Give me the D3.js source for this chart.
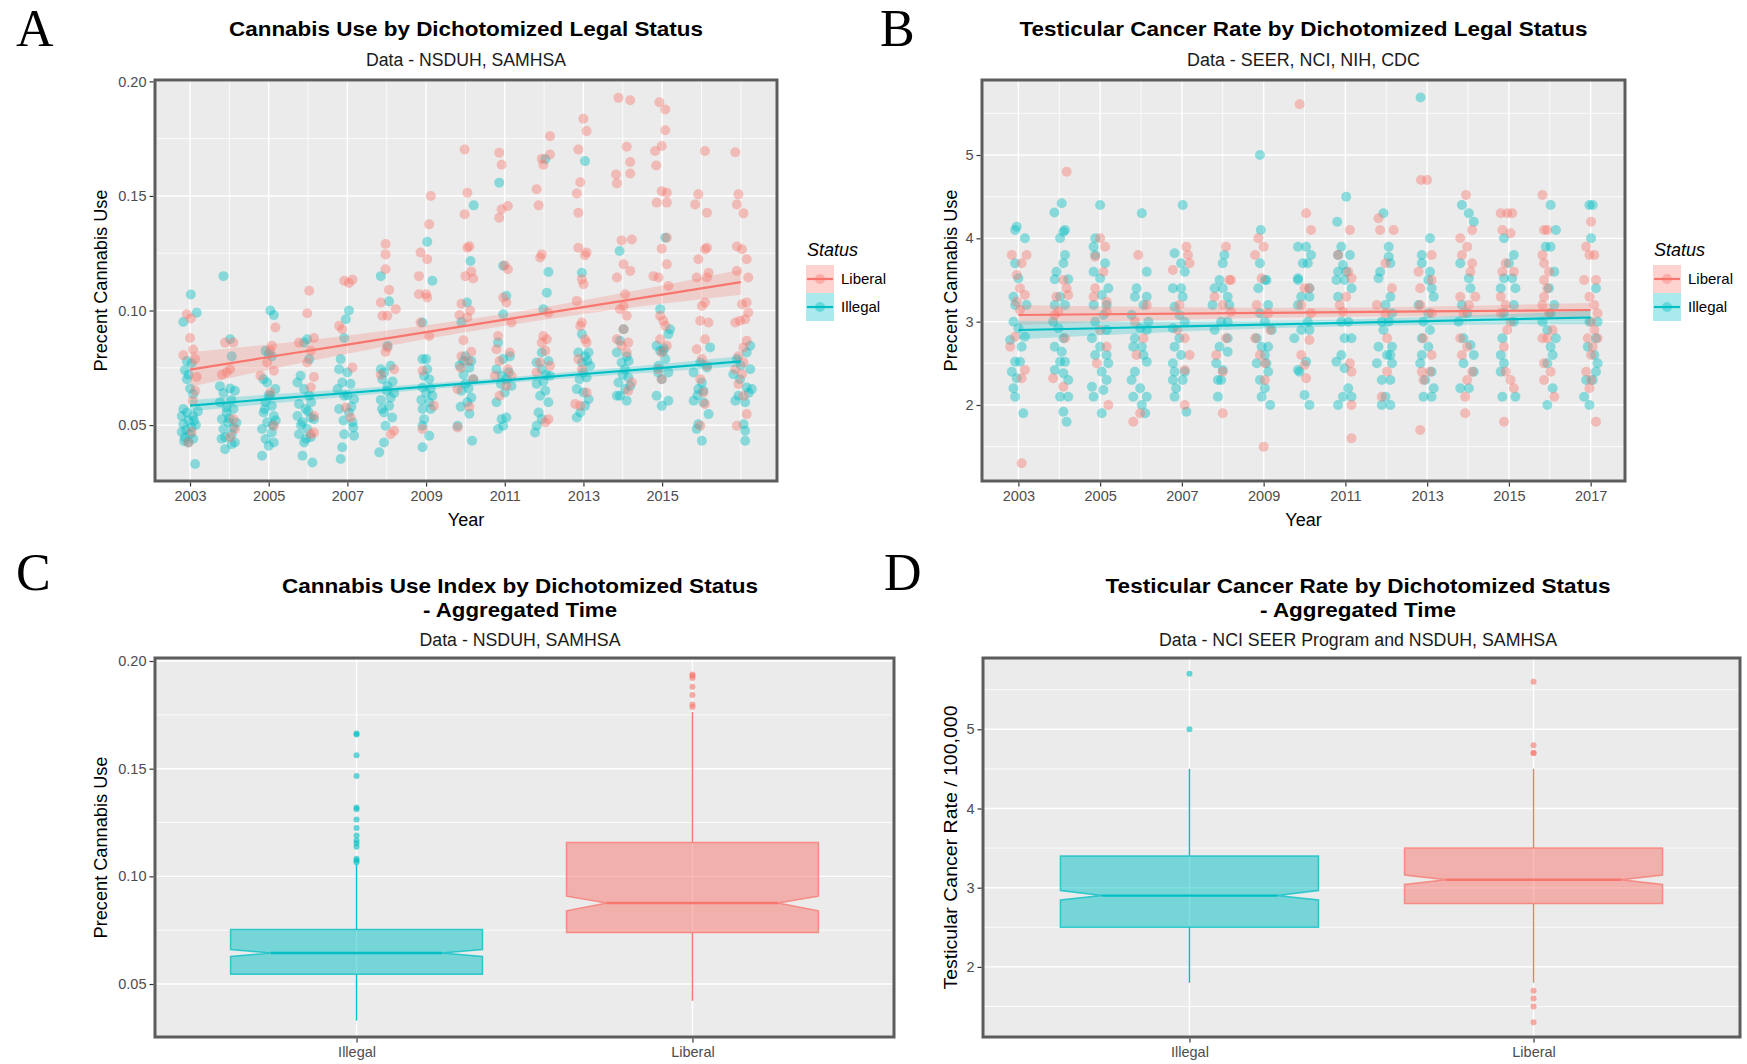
<!DOCTYPE html>
<html>
<head>
<meta charset="utf-8">
<script src="https://cdn.jsdelivr.net/npm/d3@7/dist/d3.min.js"></script>
<style>
  body { margin: 0; background: #fff; }
</style>
</head>
<body>
<svg id="chart" width="1747" height="1064" font-family="'Liberation Sans', Arial, sans-serif"></svg>
<script>
// ---- data ----
const yearTicksA = [2003, 2005, 2007, 2009, 2011, 2013, 2015];
const yearTicksB = [2003, 2005, 2007, 2009, 2011, 2013, 2015, 2017];
const yearGrid = [2003, 2004, 2005, 2006, 2007, 2008, 2009, 2010, 2011, 2012, 2013, 2014, 2015, 2016, 2017];
const useTicks = [0.05, 0.10, 0.15, 0.20];
const useMinor = [0.075, 0.125, 0.175];
const rateTicks = [2, 3, 4, 5];
const rateMinor = [1.5, 2.5, 3.5, 4.5, 5.5];
const legendGroups = ['Liberal', 'Illegal'];
const boxGroups = ['Illegal', 'Liberal'];

// [year, [[jitter offset in years, value], ...]]
const cannabisIllegal = [
  [2003, [[.02,.107],[.17,.099],[-.17,.095],[-.08,.078],[.04,.077],[-.13,.074],[-.04,.072],[-.08,.070],[0,.066],[.08,.0635],[-.17,.057],[-.08,.0555],[-.21,.054],[.08,.054],[-.04,.052],[-.17,.0505],[.04,.049],[-.21,.047],[0,.046],[-.13,.0447],[.08,.044],[-.04,.0424],[.13,.033],[.15,.050],[-.1,.048],[.1,.052],[-.15,.043],[.2,.056]]],
  [2004, [[-.15,.115],[.02,.0875],[.06,.080],[-.24,.067],[-.15,.064],[.02,.066],[.14,.065],[-.24,.060],[-.07,.0577],[.1,.057],[-.19,.0526],[-.03,.0512],[.1,.049],[.06,.046],[-.11,.0447],[.14,.0424],[-.11,.0395],[.06,.0417],[-.07,.0555],[-.15,.0483],[0,.053],[.18,.051],[-.2,.044],[.05,.061]]],
  [2005, [[.04,.100],[.13,.098],[-.08,.0824],[0,.081],[.08,.080],[-.13,.070],[-.04,.0686],[.17,.0657],[.04,.0628],[-.08,.060],[.08,.0584],[-.13,.0555],[.13,.054],[-.04,.0512],[-.17,.0483],[.08,.0468],[-.08,.0439],[0,.041],[-.17,.0366],[.13,.0424],[.1,.050],[-.1,.057],[.18,.052],[0,.063]]],
  [2006, [[-.02,.0875],[-.1,.086],[.03,.0788],[-.19,.0715],[-.27,.0686],[-.1,.0657],[.03,.0628],[-.23,.0592],[-.06,.057],[-.27,.054],[.07,.0533],[-.14,.0512],[-.02,.0483],[-.23,.046],[.07,.0447],[-.1,.0424],[-.14,.0366],[.11,.0337],[.15,.0526],[0,.056],[-.18,.050],[.08,.060],[-.05,.044]]],
  [2007, [[.04,.100],[-.04,.0962],[-.08,.088],[-.17,.0788],[-.21,.0744],[0,.073],[-.13,.0686],[.08,.068],[-.25,.0657],[-.08,.0628],[.17,.0613],[-.21,.057],[.04,.0555],[.13,.0512],[-.08,.046],[.17,.0454],[-.13,.0403],[-.17,.0352],[.1,.058],[-.1,.052],[0,.063],[.15,.049]]],
  [2008, [[-.15,.115],[.06,.104],[.02,.0846],[-.15,.0744],[-.07,.073],[.1,.0759],[-.11,.070],[.02,.067],[.19,.064],[-.15,.061],[.06,.0584],[-.07,.0555],[.14,.0533],[-.03,.0497],[-.07,.0424],[-.19,.0381],[.1,.062],[-.12,.057],[0,.065],[.15,.069]]],
  [2009, [[.03,.130],[.16,.113],[-.09,.0948],[-.09,.0788],[0,.0788],[.03,.0744],[-.05,.0715],[.08,.070],[-.09,.0664],[.16,.0628],[.08,.060],[-.09,.057],[.12,.057],[-.05,.0526],[-.09,.0497],[.08,.0454],[-.09,.0403],[0,.064],[.12,.066],[-.12,.061]]],
  [2010, [[.21,.1459],[.13,.1216],[.04,.1035],[-.1,.095],[0,.080],[.15,.078],[-.15,.076],[.1,.075],[-.05,.072],[.2,.070],[0,.068],[-.1,.065],[.15,.062],[.05,.060],[-.12,.058],[.1,.055],[-.2,.0497],[.17,.0432],[-.05,.078],[.08,.066]]],
  [2011, [[-.14,.1558],[-.04,.1195],[.04,.1064],[-.04,.0984],[-.17,.086],[-.04,.0788],[.13,.080],[-.21,.0744],[-.08,.0715],[.04,.070],[.17,.0671],[0,.0642],[-.21,.060],[-.08,.0526],[.04,.0533],[-.17,.0483],[-.04,.0497],[.1,.073],[-.1,.068]]],
  [2012, [[.03,.166],[.11,.1168],[.07,.1078],[-.02,.1006],[-.06,.0817],[.11,.078],[-.19,.0773],[-.06,.0744],[.15,.0715],[-.19,.068],[.03,.065],[-.1,.0628],[.11,.060],[-.14,.0555],[-.06,.0526],[-.19,.0497],[-.23,.0468],[.05,.072],[-.02,.069]]],
  [2013, [[.04,.1652],[-.04,.1165],[-.04,.0897],[-.13,.0817],[.04,.080],[.13,.0817],[-.04,.0773],[.17,.0759],[0,.073],[.08,.0708],[-.17,.0657],[0,.0642],[.13,.0613],[.04,.0584],[-.08,.0555],[-.17,.0533],[.1,.078],[-.1,.070]]],
  [2014, [[-.08,.126],[.02,.0918],[-.07,.0868],[-.15,.0817],[.1,.080],[-.03,.0773],[.06,.0744],[.14,.0708],[-.11,.0686],[.06,.0657],[.19,.0671],[-.07,.0628],[.1,.0606],[-.15,.0628],[0,.072],[.15,.078]]],
  [2015, [[.08,.1318],[-.05,.1006],[.2,.0918],[.16,.0897],[-.14,.0846],[-.05,.0824],[.03,.0824],[.08,.0788],[-.09,.0759],[.16,.073],[-.01,.070],[-.14,.0628],[.16,.0606],[-.01,.0584],[.05,.0835],[-.1,.073]]],
  [2016, [[.22,.0839],[-.03,.0773],[.14,.0751],[-.2,.073],[.01,.0686],[-.08,.0657],[-.2,.0606],[.05,.0599],[.18,.0548],[-.08,.0504],[-.12,.0483],[.01,.0432],[.05,.065],[-.1,.063]]],
  [2017, [[.24,.0846],[.15,.0817],[-.1,.0788],[.24,.0744],[-.19,.0722],[-.02,.070],[.15,.0664],[.28,.0657],[-.06,.0628],[.11,.060],[-.14,.0606],[.07,.0504],[.11,.0475],[.11,.0432],[.2,.064],[0,.076]]]
];

const cannabisLiberal = [
  [2003, [[-.08,.0984],[.02,.0965],[0,.088],[-.17,.0805],[.08,.083],[.13,.0788],[.17,.071],[.13,.065],[.07,.0606],[-.04,.0424],[.04,.047]]],
  [2004, [[-.11,.086],[.1,.086],[.02,.0744],[-.07,.073],[-.19,.072],[.1,.0526],[.14,.0483],[.02,.0447]]],
  [2005, [[.17,.0926],[.08,.0846],[.04,.0824],[.13,.0737],[-.21,.0715],[-.04,.0773],[.04,.0642],[.13,.0497]]],
  [2006, [[.03,.1086],[-.02,.0988],[-.23,.086],[.15,.088],[.07,.0824],[-.02,.0773],[.15,.071],[.07,.0665],[.15,.054],[.15,.0468],[.07,.046]]],
  [2007, [[-.08,.113],[.04,.112],[.13,.1134],[-.21,.0933],[-.13,.0918],[.13,.0751],[-.04,.0577],[.08,.0533]]],
  [2008, [[-.03,.129],[-.03,.1245],[-.03,.118],[-.15,.1035],[.06,.109],[.23,.1006],[-.11,.0977],[.02,.0977],[.02,.0839],[-.03,.082],[.19,.0744],[-.15,.072],[.19,.0475],[.1,.046]]],
  [2009, [[.12,.150],[.08,.1376],[-.14,.1253],[.03,.1224],[-.18,.115],[-.18,.1071],[0,.1071],[.03,.1057],[-.14,.0948],[.08,.0889],[-.09,.0737],[.2,.0584],[-.09,.0483]]],
  [2010, [[-.02,.1703],[.05,.1514],[-.02,.142],[.05,.1274],[.1,.128],[0,.115],[.15,.117],[.2,.114],[-.1,.103],[.12,.100],[-.15,.098],[.05,.097],[-.05,.087],[.15,.082],[-.1,.080],[.08,.078],[-.12,.075],[.2,.070],[-.2,.0657],[.1,.058],[-.2,.049]]],
  [2011, [[-.14,.1689],[-.08,.1636],[.08,.1456],[-.08,.1442],[-.14,.1405],[0,.1197],[.08,.118],[-.04,.1057],[.04,.1035],[.17,.0948],[-.17,.0889],[-.21,.0831],[.13,.0817],[-.13,.078],[.08,.0744],[-.25,.0715],[.17,.0715],[.04,.0671],[-.13,.0628]]],
  [2012, [[.15,.1761],[.15,.1681],[-.06,.1662],[-.02,.1636],[-.19,.1529],[-.14,.1459],[-.06,.1245],[-.1,.1231],[.11,.099],[-.02,.0889],[.07,.0875],[-.06,.086],[.03,.0824],[-.1,.0773],[.15,.0759],[-.19,.073],[.11,.0526],[.03,.0512]]],
  [2013, [[0,.1837],[.08,.1783],[-.13,.1703],[-.08,.156],[-.17,.1511],[-.13,.1427],[-.13,.1274],[.04,.1241],[.08,.1253],[-.04,.1136],[0,.1115],[-.17,.1042],[-.04,.0948],[-.08,.0933],[.04,.0875],[.08,.086],[-.13,.0788],[-.04,.0744],[.08,.0642],[-.21,.0592],[-.08,.0584]]],
  [2014, [[-.11,.1928],[.19,.1918],[.1,.1715],[.19,.1648],[.19,.1598],[-.17,.1594],[-.15,.1555],[-.03,.1306],[.23,.131],[.02,.1202],[.19,.1173],[-.15,.1144],[.06,.1071],[.02,.102],[-.07,.1006],[.1,.0977],[.02,.0918],[-.15,.0875],[.14,.086],[-.03,.0846],[.1,.0817],[.23,.0686],[.14,.065]]],
  [2015, [[-.07,.1909],[.08,.1877],[.08,.1787],[-.01,.1718],[-.18,.1696],[-.15,.1633],[-.01,.1521],[.12,.1514],[-.14,.1471],[.12,.1471],[-.01,.127],[.12,.1318],[.12,.1202],[-.22,.115],[-.09,.1144],[.16,.1107],[-.05,.0977],[.03,.0955],[.08,.0933],[-.05,.0875],[.12,.0846],[-.01,.0817],[-.09,.0744],[-.01,.070]]],
  [2016, [[.09,.1696],[-.08,.1507],[-.16,.1463],[.14,.1427],[.14,.1274],[.09,.1267],[-.08,.1224],[.18,.1165],[-.12,.1144],[.14,.1144],[.09,.1035],[.01,.102],[-.03,.0955],[.18,.0948],[.09,.0875],[-.12,.0831],[.01,.0788],[.14,.0759],[-.03,.070],[.05,.0642],[.09,.0592],[-.03,.0497]]],
  [2017, [[-.14,.1691],[-.06,.1507],[-.1,.1463],[.07,.1424],[-.1,.1279],[.03,.1267],[.15,.1224],[-.1,.1173],[.19,.1144],[.03,.1027],[.15,.1035],[-.14,.0948],[-.02,.0955],[.11,.0962],[.19,.0991],[.15,.0868],[.07,.0839],[-.06,.080],[.07,.0773],[-.14,.0744],[.03,.0722],[-.06,.0679],[.07,.0628],[.15,.0548],[-.1,.0497]]]
];

const cancerIllegal = [
  [2003, [[-.04,4.14],[-.08,4.1],[.16,4.0],[-.08,3.7],[0,3.52],[-.12,3.3],[-.08,3.2],[.2,3.2],[-.12,3.0],[0,2.92],[.16,2.82],[-.2,2.78],[.08,2.7],[-.08,2.52],[.04,2.52],[-.16,2.4],[-.04,2.32],[-.12,2.2],[-.08,2.1],[.12,1.9]]],
  [2004, [[.06,4.42],[-.12,4.31],[.14,4.1],[.1,4.08],[.02,4.0],[.14,3.8],[.1,3.7],[-.07,3.6],[.22,3.51],[-.11,3.51],[.02,3.3],[-.11,3.2],[.14,3.2],[-.15,3.0],[-.02,2.92],[.1,2.8],[-.11,2.7],[.06,2.64],[.02,2.52],[.14,2.52],[-.11,2.42],[.1,2.38],[.22,2.3],[.02,2.1],[.22,2.1],[.1,1.92],[.18,1.8]]],
  [2005, [[0,4.4],[-.12,4.0],[-.16,3.9],[-.12,3.8],[.12,3.7],[-.16,3.6],[0,3.52],[.2,3.4],[.04,3.32],[-.16,3.2],[.16,3.2],[.08,3.08],[-.12,3.0],[.16,2.9],[-.2,2.8],[0,2.7],[.16,2.6],[-.12,2.6],[.2,2.5],[.04,2.4],[.16,2.3],[-.2,2.22],[.08,2.18],[-.16,2.1],[.04,1.9]]],
  [2006, [[.02,4.3],[.14,3.6],[-.11,3.4],[-.15,3.3],[.14,3.3],[.06,3.2],[-.23,3.08],[.18,3.0],[-.02,2.92],[.14,2.9],[-.15,2.8],[.02,2.7],[-.19,2.7],[.06,2.6],[.14,2.52],[-.15,2.4],[-.23,2.3],[-.02,2.2],[-.19,2.1],[.14,2.1],[.02,2.0],[.1,1.9]]],
  [2007, [[.02,4.4],[-.18,3.82],[-.02,3.7],[.07,3.6],[-.22,3.4],[-.02,3.4],[.02,3.3],[-.18,3.18],[-.06,3.08],[.07,3.0],[-.22,2.92],[-.06,2.8],[-.18,2.7],[-.02,2.6],[-.22,2.5],[-.18,2.4],[.07,2.4],[-.22,2.3],[.02,2.3],[-.14,2.2],[-.18,2.1],[.11,1.92]]],
  [2008, [[.04,3.8],[0,3.7],[-.08,3.5],[-.2,3.4],[0,3.4],[.12,3.3],[.16,3.2],[-.25,3.2],[-.04,3.0],[.12,3.0],[-.2,2.9],[.12,2.8],[-.08,2.7],[.12,2.64],[-.16,2.5],[0,2.42],[-.12,2.3],[-.04,2.3],[-.12,2.1]]],
  [2009, [[-.09,5.0],[-.07,4.1],[-.09,3.7],[-.13,3.4],[.07,3.5],[.03,3.5],[.11,3.2],[-.09,3.1],[.03,3.0],[.2,2.9],[-.17,2.8],[-.05,2.7],[.11,2.7],[.03,2.6],[-.17,2.5],[.07,2.5],[.11,2.4],[-.09,2.3],[.03,2.2],[-.05,2.1],[.16,2.0]]],
  [2010, [[-.16,3.9],[.04,3.9],[.16,3.8],[-.04,3.7],[.08,3.7],[-.16,3.52],[-.16,3.5],[.12,3.4],[-.08,3.3],[.12,3.3],[-.16,3.2],[.08,3.0],[-.08,2.9],[.12,2.9],[-.25,2.8],[.04,2.52],[-.16,2.42],[-.12,2.4],[0,2.12],[.12,2.0]]],
  [2011, [[.02,4.5],[-.2,4.2],[-.1,3.9],[-.18,3.8],[-.06,3.68],[.11,3.8],[-.18,3.6],[.02,3.6],[-.22,3.5],[-.02,3.5],[.15,3.4],[-.18,3.3],[.07,3.0],[-.1,3.0],[.15,2.8],[-.02,2.8],[-.22,2.52],[-.1,2.6],[-.02,2.44],[.07,2.2],[.15,2.1],[-.18,2.0],[-.06,2.1]]],
  [2012, [[-.07,4.3],[.06,3.9],[.06,3.78],[.1,3.7],[-.15,3.6],[-.19,3.52],[.1,3.3],[-.02,3.2],[.14,3.1],[-.11,3.0],[.06,3.0],[-.07,2.9],[-.19,2.7],[.14,2.7],[.02,2.6],[.1,2.6],[-.23,2.5],[.14,2.5],[-.11,2.3],[.1,2.3],[-.02,2.1],[.1,2.0],[-.11,2.0]]],
  [2013, [[-.16,5.69],[.07,4.0],[-.13,3.8],[-.13,3.7],[.07,3.6],[.03,3.5],[.11,3.4],[.16,3.3],[-.21,3.2],[.03,3.1],[-.09,3.0],[.07,2.9],[-.13,2.8],[.03,2.7],[-.13,2.6],[-.17,2.5],[.11,2.4],[-.05,2.3],[.16,2.2],[-.09,2.1],[.11,2.1]]],
  [2014, [[-.15,4.4],[.02,4.3],[.14,4.2],[-.19,3.7],[.02,3.52],[.06,3.4],[-.15,3.2],[-.23,3.0],[-.02,3.1],[-.11,2.8],[.06,2.72],[.14,2.6],[-.11,2.5],[-.19,2.2],[.02,2.2],[.14,2.4]]],
  [2015, [[-.12,4.0],[.12,3.8],[0,3.7],[-.12,3.52],[.08,3.52],[.16,3.4],[-.2,3.4],[.12,3.2],[-.12,3.1],[.12,3.0],[-.16,2.8],[-.2,2.6],[-.12,2.5],[-.2,2.4],[-.16,2.1],[.16,2.1]]],
  [2016, [[.02,4.4],[.15,4.1],[-.1,3.9],[.02,3.9],[.11,3.6],[-.02,3.4],[.11,3.2],[.02,3.1],[-.18,3.0],[-.06,2.9],[.15,2.8],[.02,2.7],[.07,2.6],[-.06,2.5],[.07,2.2],[-.06,2.0]]],
  [2017, [[-.03,4.4],[.05,4.4],[.01,4.0],[.13,3.4],[.17,3.0],[-.03,3.0],[.13,2.8],[-.07,2.7],[.09,2.6],[.17,2.5],[.13,2.4],[-.11,2.3],[.05,2.3],[-.16,2.1],[-.03,2.0]]]
];

const cancerLiberal = [
  [2003, [[-.16,3.8],[.2,3.8],[.08,3.7],[-.04,3.56],[.04,3.4],[.16,3.32],[-.04,3.24],[.04,3.14],[-.08,2.82],[-.2,2.7],[.16,2.42],[.08,2.32],[.08,1.3]]],
  [2004, [[.18,4.8],[.1,3.5],[.18,3.4],[.22,3.32],[-.07,3.3],[-.02,3.12],[-.11,3.08],[.14,2.8],[-.15,2.32],[.1,2.22]]],
  [2005, [[0,4.0],[.12,3.9],[-.12,3.78],[.08,3.6],[-.12,3.4],[-.16,3.3],[.16,3.24],[.16,3.12],[0,2.9],[.16,2.7],[-.08,2.5],[.2,2.0]]],
  [2006, [[-.07,3.8],[.14,3.2],[-.15,3.0],[.06,2.8],[-.11,2.6],[-.19,1.8],[-.02,1.9]]],
  [2007, [[.11,3.9],[.15,3.8],[.19,3.7],[-.22,3.62],[-.06,3.2],[-.1,2.9],[.07,2.8],[.19,2.6],[.07,2.42],[.07,2.0]]],
  [2008, [[.08,3.9],[.16,3.5],[.2,3.5],[-.2,3.3],[0,3.2],[.2,3.12],[.08,2.8],[-.16,2.6],[0,2.4],[0,1.9]]],
  [2009, [[-.13,4.0],[0,3.9],[-.21,3.8],[-.05,3.52],[-.17,3.2],[.11,3.1],[.16,2.9],[-.21,2.8],[-.09,2.6],[.03,2.5],[.03,2.3],[0,1.5]]],
  [2010, [[-.12,5.61],[.04,4.3],[.16,4.1],[0,3.4],[.12,3.4],[-.08,3.2],[.16,3.1],[.12,2.78],[-.08,2.6],[0,2.48],[.04,2.32]]],
  [2011, [[.11,4.1],[-.18,3.8],[.07,3.6],[.15,3.52],[.02,3.3],[-.14,3.2],[-.06,3.12],[.15,2.4],[.11,2.5],[.15,2.0],[.15,1.6]]],
  [2012, [[-.19,4.24],[-.15,4.1],[.18,4.1],[-.02,3.7],[.14,3.4],[-.23,3.2],[-.02,3.1],[.02,2.8],[.02,2.4],[-.11,2.1]]],
  [2013, [[-.15,4.7],[0,4.7],[.11,3.8],[-.21,3.6],[.11,3.5],[-.17,3.4],[-.17,3.2],[.11,3.1],[-.09,2.8],[.11,2.6],[-.13,2.4],[.07,2.4],[-.09,2.3],[-.17,1.7]]],
  [2014, [[-.05,4.52],[-.19,4.0],[.1,4.1],[-.02,3.9],[-.15,3.8],[.1,3.7],[.06,3.6],[-.19,3.3],[.18,3.3],[.02,3.2],[-.11,3.1],[-.19,2.8],[-.02,2.7],[-.15,2.6],[.1,2.4],[-.02,2.3],[-.07,2.1],[-.07,1.9]]],
  [2015, [[-.2,4.3],[-.04,4.3],[.08,4.3],[-.16,4.1],[.04,4.06],[-.16,3.6],[.12,3.6],[-.08,3.7],[-.2,3.3],[-.08,3.2],[-.2,3.1],[.04,3.0],[-.04,2.9],[-.12,2.7],[-.08,2.4],[.04,2.3],[.12,2.2],[-.12,1.8]]],
  [2016, [[-.18,4.52],[-.14,4.1],[-.06,4.1],[-.18,3.8],[-.14,3.7],[-.02,3.6],[-.14,3.5],[-.06,3.4],[-.14,3.3],[-.18,3.2],[-.02,3.1],[.07,2.9],[-.18,2.8],[-.06,2.8],[-.14,2.5],[.02,2.4],[-.14,2.3],[.11,2.1]]],
  [2017, [[.01,4.2],[-.03,3.8],[.09,3.8],[-.11,3.9],[-.16,3.5],[.13,3.5],[-.03,3.3],[.09,3.2],[.17,3.1],[.01,3.0],[.09,2.9],[-.07,2.8],[.17,2.8],[.05,2.7],[.01,2.6],[-.11,2.4],[.01,2.3],[-.03,2.2],[.13,1.8]]]
];

// linear fits with standard-error half widths
const fitYears = [2003, 2005, 2007, 2009, 2011, 2013, 2015, 2017];
const useFitLiberal = [.0742, .0797, .0851, .0906, .0960, .1015, .1069, .1124];
const useSeLiberal = [.0076, .0055, .0040, .0030, .0026, .0030, .0040, .0055];
const useFitIllegal = [.0585, .0613, .0640, .0668, .0695, .0723, .0750, .0778];
const useSeIllegal = [.0025, .0020, .0016, .0013, .0012, .0014, .0017, .0022];
const rateFitLiberal = [3.080, 3.089, 3.097, 3.106, 3.114, 3.123, 3.131, 3.140];
const rateSeLiberal = [.12, .095, .075, .06, .055, .06, .07, .085];
const rateFitIllegal = [2.900, 2.921, 2.943, 2.964, 2.986, 3.007, 3.029, 3.050];
const rateSeIllegal = [.11, .085, .06, .045, .04, .048, .062, .08];

// boxplots: [lower whisker, Q1, median, Q3, upper whisker], notch [lo, hi]
const useBoxIllegal = [.033, .0545, .0644, .0753, .1055];
const useNotchIllegal = [.0628, .0660];
const useOutIllegal = [.1659, .1663, .1562, .1466, .1320, .1312, .1264, .1224, .1190, .1166, .1154, .1138, .1082, .1074, .1066];
const useBoxLiberal = [.0422, .0739, .0876, .1157, .1763];
const useNotchLiberal = [.0840, .0908];
const useOutLiberal = [.1787, .1798, .1842, .1881, .1921, .1932, .1937];
const rateBoxIllegal = [1.8, 2.5, 2.9, 3.4, 4.5];
const rateNotchIllegal = [2.845, 2.965];
const rateOutIllegal = [5.7, 5.0];
const rateBoxLiberal = [1.8, 2.8, 3.1, 3.5, 4.5];
const rateNotchLiberal = [3.04, 3.16];
const rateOutLiberal = [5.6, 4.8, 4.7, 4.7, 1.7, 1.6, 1.5, 1.3];

// ---- drawing ----
const colors = { Liberal: '#F8766D', Illegal: '#00BFC4' };
const svg = d3.select('#chart');

function flatten(rows) {
  return rows.flatMap(([yr, pts]) => pts.map(([dx, v]) => ({ x: yr + dx, y: v })));
}

function panelBase(box, x, y, xGrid, xMajor, yMajor, yMinor) {
  const g = svg.append('g');
  g.append('rect')
    .attr('x', box.x0).attr('y', box.y0)
    .attr('width', box.x1 - box.x0).attr('height', box.y1 - box.y0)
    .attr('fill', '#EBEBEB');
  g.selectAll('.hmin').data(yMinor).join('line')
    .attr('x1', box.x0).attr('x2', box.x1)
    .attr('y1', d => y(d)).attr('y2', d => y(d))
    .attr('stroke', '#fff').attr('stroke-width', 0.8);
  g.selectAll('.hmaj').data(yMajor).join('line')
    .attr('x1', box.x0).attr('x2', box.x1)
    .attr('y1', d => y(d)).attr('y2', d => y(d))
    .attr('stroke', '#fff').attr('stroke-width', 1.4);
  g.selectAll('.v').data(xGrid).join('line')
    .attr('x1', d => x(d)).attr('x2', d => x(d))
    .attr('y1', box.y0).attr('y2', box.y1)
    .attr('stroke', '#fff').attr('stroke-width', d => xMajor.includes(d) ? 1.4 : 0.8);
  return g;
}

function panelAxes(box, x, y, xTicks, yTicks, xFormat, yFormat) {
  const ax = svg.append('g')
    .attr('transform', `translate(0,${box.y1 + 1.5})`)
    .call(d3.axisBottom(x).tickValues(xTicks).tickFormat(xFormat).tickSize(4).tickPadding(4));
  const ay = svg.append('g')
    .attr('transform', `translate(${box.x0 - 1.5},0)`)
    .call(d3.axisLeft(y).tickValues(yTicks).tickFormat(yFormat).tickSize(4).tickPadding(3));
  [ax, ay].forEach(a => {
    a.attr('font-family', null);
    a.select('.domain').remove();
    a.selectAll('line').attr('stroke', '#333').attr('stroke-width', 1.2);
    a.selectAll('text').attr('fill', '#4D4D4D').attr('font-size', '14.5px');
  });
}

function panelBorder(box) {
  svg.append('rect')
    .attr('x', box.x0).attr('y', box.y0)
    .attr('width', box.x1 - box.x0).attr('height', box.y1 - box.y0)
    .attr('fill', 'none').attr('stroke', '#5c5c5c').attr('stroke-width', 3);
}

function titles(cx, lines, lineY, sub, subY, widths, subWidth) {
  lines.forEach((t, i) => {
    svg.append('text').attr('x', cx).attr('y', lineY[i])
      .attr('text-anchor', 'middle').attr('font-weight', 'bold')
      .attr('font-size', '21px').attr('fill', '#000')
      .attr('textLength', widths[i]).attr('lengthAdjust', 'spacingAndGlyphs')
      .text(t);
  });
  svg.append('text').attr('x', cx).attr('y', subY)
    .attr('text-anchor', 'middle').attr('font-size', '18px').attr('fill', '#1a1a1a')
    .attr('textLength', subWidth).attr('lengthAdjust', 'spacingAndGlyphs')
    .text(sub);
}

function axisTitles(box, xt, xtY, yt, ytX, ytLen) {
  if (xt) {
    svg.append('text').attr('x', (box.x0 + box.x1) / 2).attr('y', xtY)
      .attr('text-anchor', 'middle').attr('font-size', '18px').attr('fill', '#000').text(xt);
  }
  svg.append('text')
    .attr('transform', `translate(${ytX},${(box.y0 + box.y1) / 2}) rotate(-90)`)
    .attr('text-anchor', 'middle').attr('font-size', '18px').attr('fill', '#000')
    .attr('textLength', ytLen).attr('lengthAdjust', 'spacingAndGlyphs')
    .text(yt);
}

function panelLetter(t, x, y) {
  svg.append('text').attr('x', x).attr('y', y)
    .attr('font-family', "'Liberation Serif', 'Times New Roman', serif")
    .attr('font-size', '52px').attr('fill', '#000').text(t);
}

function legend(x0, y0) {
  const g = svg.append('g').attr('transform', `translate(${x0},${y0})`);
  g.append('text').attr('x', 1).attr('y', 0).attr('font-size', '18px')
    .attr('font-style', 'italic').attr('fill', '#000').text('Status');
  legendGroups.forEach((s, i) => {
    const ky = 9 + i * 28;
    g.append('rect').attr('x', 0).attr('y', ky).attr('width', 28).attr('height', 28)
      .attr('fill', '#fff');
    g.append('rect').attr('x', 0).attr('y', ky).attr('width', 28).attr('height', 28)
      .attr('fill', colors[s]).attr('fill-opacity', 0.33);
    g.append('circle').attr('cx', 14).attr('cy', ky + 14).attr('r', 5)
      .attr('fill', colors[s]).attr('fill-opacity', 0.4);
    g.append('line').attr('x1', 1).attr('x2', 27).attr('y1', ky + 14).attr('y2', ky + 14)
      .attr('stroke', colors[s]).attr('stroke-width', 2.2);
    g.append('text').attr('x', 35).attr('y', ky + 19).attr('font-size', '15px')
      .attr('fill', '#000').text(s);
  });
}

function scatterPanel(box, x, y, pointSets, fits) {
  const clipId = 'clip' + Math.round(box.x0);
  svg.append('clipPath').attr('id', clipId).append('rect')
    .attr('x', box.x0).attr('y', box.y0)
    .attr('width', box.x1 - box.x0).attr('height', box.y1 - box.y0);
  const g = svg.append('g').attr('clip-path', `url(#${clipId})`);
  pointSets.forEach(([status, rows]) => {
    g.append('g').selectAll('circle').data(flatten(rows)).join('circle')
      .attr('cx', d => x(d.x)).attr('cy', d => y(d.y)).attr('r', 5)
      .attr('fill', colors[status]).attr('fill-opacity', 0.42);
  });
  fits.forEach(([status, fit, se]) => {
    const rows = fitYears.map((yr, i) => ({ yr, f: fit[i], se: se[i] }));
    g.append('path').datum(rows)
      .attr('d', d3.area().curve(d3.curveMonotoneX)
        .x(d => x(d.yr)).y0(d => y(d.f - d.se)).y1(d => y(d.f + d.se)))
      .attr('fill', colors[status]).attr('fill-opacity', 0.25);
    g.append('path').datum(rows)
      .attr('d', d3.line().x(d => x(d.yr)).y(d => y(d.f)))
      .attr('fill', 'none').attr('stroke', colors[status]).attr('stroke-width', 2.2);
  });
}

function boxPanel(box, x, y, stats) {
  const bw = (x(1.375) - x(0.625));
  stats.forEach(([status, pos, b, notch, outs]) => {
    const c = colors[status];
    const xc = x(pos), xl = xc - bw / 2, xr = xc + bw / 2, ind = bw * 0.16;
    const [lo, q1, med, q3, hi] = b;
    const g = svg.append('g');
    g.append('line').attr('x1', xc).attr('x2', xc).attr('y1', y(q3)).attr('y2', y(hi))
      .attr('stroke', c).attr('stroke-width', 1.4);
    g.append('line').attr('x1', xc).attr('x2', xc).attr('y1', y(q1)).attr('y2', y(lo))
      .attr('stroke', c).attr('stroke-width', 1.4);
    const pts = [[xl, y(q3)], [xl, y(notch[1])], [xl + ind, y(med)], [xl, y(notch[0])], [xl, y(q1)],
      [xr, y(q1)], [xr, y(notch[0])], [xr - ind, y(med)], [xr, y(notch[1])], [xr, y(q3)]];
    g.append('path').attr('d', d3.line()(pts) + 'Z')
      .attr('fill', c).attr('fill-opacity', 0.5)
      .attr('stroke', c).attr('stroke-opacity', 0.75).attr('stroke-width', 1.5);
    g.append('line').attr('x1', xl + ind).attr('x2', xr - ind).attr('y1', y(med)).attr('y2', y(med))
      .attr('stroke', c).attr('stroke-width', 2.4);
    g.selectAll('circle').data(outs).join('circle')
      .attr('cx', xc).attr('cy', d => y(d)).attr('r', 3)
      .attr('fill', c).attr('fill-opacity', 0.6);
  });
}

// Panel A
const boxA = { x0: 155, x1: 777, y0: 80, y1: 481 };
const xA = d3.scaleLinear().domain([2002.11, 2017.92]).range([boxA.x0, boxA.x1]);
const yA = d3.scaleLinear().domain([0.0256, 0.2006]).range([boxA.y1, boxA.y0]);
panelBase(boxA, xA, yA, yearGrid, yearTicksA, useTicks, useMinor);
scatterPanel(boxA, xA, yA, [['Illegal', cannabisIllegal], ['Liberal', cannabisLiberal]],
  [['Liberal', useFitLiberal, useSeLiberal], ['Illegal', useFitIllegal, useSeIllegal]]);
panelBorder(boxA);
panelAxes(boxA, xA, yA, yearTicksA, useTicks, d3.format('d'), d3.format('.2f'));
titles(466, ['Cannabis Use by Dichotomized Legal Status'], [36], 'Data - NSDUH, SAMHSA', 66, [474], 200);
axisTitles(boxA, 'Year', 526, 'Precent Cannabis Use', 107, 182);
legend(806, 256);
panelLetter('A', 16, 46);

// Panel B
const boxB = { x0: 982, x1: 1625, y0: 80, y1: 481 };
const xB = d3.scaleLinear().domain([2002.11, 2017.84]).range([boxB.x0, boxB.x1]);
const yB = d3.scaleLinear().domain([1.088, 5.90]).range([boxB.y1, boxB.y0]);
panelBase(boxB, xB, yB, yearGrid, yearTicksB, rateTicks, rateMinor);
scatterPanel(boxB, xB, yB, [['Illegal', cancerIllegal], ['Liberal', cancerLiberal]],
  [['Liberal', rateFitLiberal, rateSeLiberal], ['Illegal', rateFitIllegal, rateSeIllegal]]);
panelBorder(boxB);
panelAxes(boxB, xB, yB, yearTicksB, rateTicks, d3.format('d'), d3.format('d'));
titles(1303.5, ['Testicular Cancer Rate by Dichotomized Legal Status'], [36], 'Data - SEER, NCI, NIH, CDC', 66, [568], 233);
axisTitles(boxB, 'Year', 526, 'Precent Cannabis Use', 957, 182);
legend(1653, 256);
panelLetter('B', 880, 46);

// Panel C
const boxC = { x0: 155, x1: 894, y0: 658, y1: 1037 };
const xC = d3.scaleLinear().domain([0.4, 2.6]).range([boxC.x0, boxC.x1]);
const yC = d3.scaleLinear().domain([0.0254, 0.2014]).range([boxC.y1, boxC.y0]);
panelBase(boxC, xC, yC, [1, 2], [1, 2], useTicks, useMinor);
boxPanel(boxC, xC, yC, [
  ['Illegal', 1, useBoxIllegal, useNotchIllegal, useOutIllegal],
  ['Liberal', 2, useBoxLiberal, useNotchLiberal, useOutLiberal]
]);
panelBorder(boxC);
panelAxes(boxC, xC, yC, [1, 2], useTicks, (d, i) => boxGroups[i], d3.format('.2f'));
titles(520, ['Cannabis Use Index by Dichotomized Status', '- Aggregated Time'], [593, 617], 'Data - NSDUH, SAMHSA', 646, [476, 194], 201);
axisTitles(boxC, null, 0, 'Precent Cannabis Use', 107, 182);
panelLetter('C', 16, 590);

// Panel D
const boxD = { x0: 983, x1: 1740, y0: 658, y1: 1037 };
const xD = d3.scaleLinear().domain([0.4, 2.6]).range([boxD.x0, boxD.x1]);
const yD = d3.scaleLinear().domain([1.115, 5.90]).range([boxD.y1, boxD.y0]);
panelBase(boxD, xD, yD, [1, 2], [1, 2], rateTicks, rateMinor);
boxPanel(boxD, xD, yD, [
  ['Illegal', 1, rateBoxIllegal, rateNotchIllegal, rateOutIllegal],
  ['Liberal', 2, rateBoxLiberal, rateNotchLiberal, rateOutLiberal]
]);
panelBorder(boxD);
panelAxes(boxD, xD, yD, [1, 2], rateTicks, (d, i) => boxGroups[i], d3.format('d'));
titles(1358, ['Testicular Cancer Rate by Dichotomized Status', '- Aggregated Time'], [593, 617], 'Data - NCI SEER Program and NSDUH, SAMHSA', 646, [505, 196], 398);
axisTitles(boxD, null, 0, 'Testicular Cancer Rate / 100,000', 957, 284);
panelLetter('D', 884, 590);
</script>
</body>
</html>
